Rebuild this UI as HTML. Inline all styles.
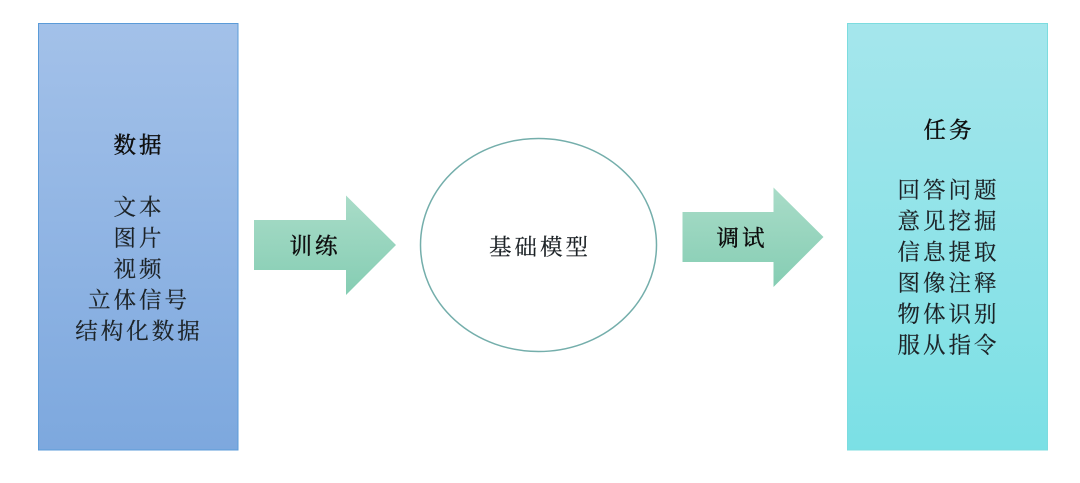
<!DOCTYPE html>
<html>
<head>
<meta charset="utf-8">
<style>
html,body{margin:0;padding:0;background:#fff;width:1080px;height:483px;overflow:hidden}
svg{display:block}
text{font-family:"Liberation Serif","Noto Serif CJK SC",serif;font-size:22.5px;fill:#1c2226;text-anchor:middle;letter-spacing:3px;font-weight:400;stroke:#1c2226;stroke-width:.2px;filter:url(#s)}
text.h{stroke:#111;stroke-width:.45px;fill:#111}
</style>
</head>
<body>
<svg width="1080" height="483" viewBox="0 0 1080 483" xmlns="http://www.w3.org/2000/svg">
<defs>
<filter id="s" x="-5%" y="-5%" width="110%" height="110%"><feGaussianBlur stdDeviation="0.3"/></filter>
<linearGradient id="b" x1="0" y1="0" x2="0" y2="1"><stop offset="0" stop-color="#a3c1e9"/><stop offset="1" stop-color="#7da8de"/></linearGradient>
<linearGradient id="t" x1="0" y1="0" x2="0" y2="1"><stop offset="0" stop-color="#a5e6ec"/><stop offset="1" stop-color="#7be0e5"/></linearGradient>
<linearGradient id="g" x1="0" y1="0" x2="0" y2="1"><stop offset="0" stop-color="#a9dcc8"/><stop offset="1" stop-color="#85cdb3"/></linearGradient>
</defs>
<rect x="38.5" y="23.5" width="199.5" height="426.5" fill="url(#b)" stroke="#5b9bd8" stroke-width="1"/>
<rect x="847.5" y="23.5" width="200" height="426.5" fill="url(#t)" stroke="#7cdcdf" stroke-width="1"/>
<polygon points="254,220 346,220 346,195.5 396,245 346,295 346,270 254,270" fill="url(#g)"/>
<polygon points="682.5,212 773.5,212 773.5,187.5 823.5,237 773.5,287 773.5,262 682.5,262" fill="url(#g)"/>
<ellipse cx="538.5" cy="245" rx="118" ry="106.5" fill="#fff" stroke="#74aeab" stroke-width="1.5"/>

<text class="h" x="139" y="153">数据</text>
<text x="139" y="215">文本</text>
<text x="139" y="246">图片</text>
<text x="139" y="277">视频</text>
<text x="139" y="308">立体信号</text>
<text x="139" y="339">结构化数据</text>

<text class="h" x="315" y="254">训练</text>
<text x="540" y="255">基础模型</text>
<text class="h" x="742" y="246">调试</text>

<text class="h" x="949" y="138">任务</text>
<text x="948.5" y="198">回答问题</text>
<text x="948.5" y="229">意见挖掘</text>
<text x="948.5" y="260">信息提取</text>
<text x="948.5" y="291">图像注释</text>
<text x="948.5" y="322">物体识别</text>
<text x="948.5" y="353">服从指令</text>
</svg>
</body>
</html>
